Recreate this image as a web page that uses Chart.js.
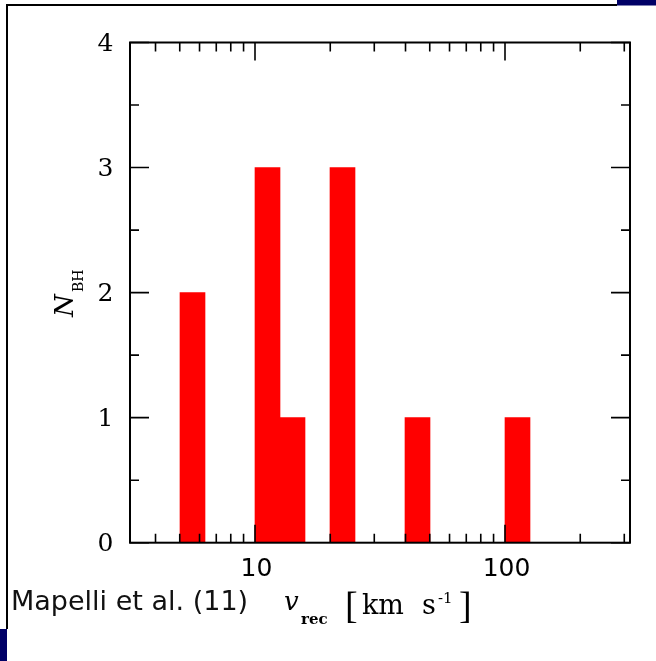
<!DOCTYPE html>
<html><head><meta charset="utf-8">
<script src="https://cdn.jsdelivr.net/npm/chart.js@4.4.1/dist/chart.umd.min.js"></script>
<style>html,body{margin:0;padding:0;background:#fff;overflow:hidden}#wrap{position:relative;width:656px;height:661px}</style>
</head><body><div id="wrap"><canvas id="c" width="656" height="661"></canvas></div>
<script>
// Histogram data (bins in log10 of recoil velocity, km/s)
const binLogLow = [0.7, 1.0, 1.1, 1.3, 1.6, 2.0];
const binWidthDex = 0.1;
const counts = [2, 3, 1, 3, 1, 1];
const xRangeLog = [0.5, 2.5];
const yRange = [0, 4];
const yTickValues = [0, 1, 2, 3, 4];
const yTickLabels = ['0', '1', '2', '3', '4'];
const xTickValues = [10, 100];
const xTickLabels = ['10', '100'];
const creditText = 'Mapelli et al. (11)';

const barData = counts.map((c, i) => ({ x: binLogLow[i] + binWidthDex / 2, y: c }));

const decor = {
  id: 'decor',
  afterDatasetsDraw(chart) {
    const ctx = chart.ctx;
    const xs = chart.scales.x, ys = chart.scales.y;
    const a = chart.chartArea;
    const px = v => xs.getPixelForValue(Math.log10(v));
    ctx.save();
    // slide frame
    ctx.fillStyle = '#000';
    ctx.fillRect(6, 4, 2, 625);
    ctx.fillRect(6, 4, 611, 2);
    ctx.fillStyle = '#000066';
    ctx.fillRect(617, 0, 39, 5.5);
    ctx.fillRect(0, 629, 7, 32);

    // axis box
    ctx.strokeStyle = '#000';
    ctx.lineWidth = 2;
    ctx.strokeRect(a.left, a.top, a.right - a.left, a.bottom - a.top);

    // ticks
    ctx.lineWidth = 1.6;
    ctx.beginPath();
    const lo = Math.pow(10, xRangeLog[0]), hi = Math.pow(10, xRangeLog[1]);
    for (let d = 1; d <= 1000; d *= 10) {
      for (let m = 1; m <= 9; m++) {
        const v = m * d;
        if (v < lo || v > hi) continue;
        const x = px(v);
        const len = (m === 1) ? 18 : 9;
        ctx.moveTo(x, a.bottom); ctx.lineTo(x, a.bottom - len);
        ctx.moveTo(x, a.top); ctx.lineTo(x, a.top + len);
      }
    }
    for (let v = yRange[0]; v <= yRange[1] + 1e-9; v += 0.5) {
      const y = ys.getPixelForValue(v);
      const len = Number.isInteger(v) ? 19 : 9;
      ctx.moveTo(a.left, y); ctx.lineTo(a.left + len, y);
      ctx.moveTo(a.right, y); ctx.lineTo(a.right - len, y);
    }
    ctx.stroke();

    // tick labels
    ctx.fillStyle = '#000';
    ctx.font = '25px "DejaVu Serif"';
    ctx.textAlign = 'center';
    ctx.textBaseline = 'middle';
    yTickValues.forEach((v, i) => {
      ctx.fillText(yTickLabels[i], 105.5, ys.getPixelForValue(v) + 2);
    });
    ctx.font = '25px "DejaVu Sans"';
    xTickValues.forEach((v, i) => {
      ctx.fillText(xTickLabels[i], px(v) + 1.5, 569);
    });

    // credit
    ctx.textAlign = 'left';
    ctx.textBaseline = 'alphabetic';
    ctx.fillStyle = '#111';
    ctx.font = '27px "DejaVu Sans"';
    ctx.fillText(creditText, 11, 610);

    // x axis title: v_rec [km s^-1]
    ctx.fillStyle = '#000';
    ctx.font = 'italic 26px "DejaVu Serif"';
    ctx.fillText('v', 284, 610);
    ctx.font = 'bold 15px "DejaVu Serif"';
    ctx.fillText('rec', 301, 624);
    ctx.font = '38px "Liberation Serif"';
    ctx.fillText('[', 345, 618);
    ctx.fillText(']', 459, 618);
    ctx.font = '27px "DejaVu Serif"';
    ctx.fillText('km', 362, 614);
    ctx.fillText('s', 422, 614);
    ctx.font = '15px "DejaVu Serif"';
    ctx.fillText('-1', 438, 603);

    // y axis title: N_BH (rotated)
    ctx.save();
    ctx.translate(73, 317);
    ctx.rotate(-Math.PI / 2);
    ctx.font = 'italic 26px "DejaVu Serif"';
    ctx.fillText('N', 0, 0);
    ctx.font = '14px "DejaVu Serif"';
    ctx.fillText('BH', 25, 10);
    ctx.restore();

    ctx.restore();
  }
};

new Chart(document.getElementById('c'), {
  type: 'bar',
  data: {
    datasets: [{
      data: barData,
      backgroundColor: '#ff0000',
      borderWidth: 0,
      barPercentage: 1,
      categoryPercentage: 1
    }]
  },
  options: {
    responsive: false,
    animation: false,
    events: [],
    layout: { padding: { left: 130, right: 26, top: 42.5, bottom: 118.3 } },
    plugins: { legend: { display: false }, tooltip: { enabled: false } },
    scales: {
      x: { type: 'linear', min: xRangeLog[0], max: xRangeLog[1], offset: false, display: false,
           ticks: { stepSize: 0.5 } },
      y: { type: 'linear', min: yRange[0], max: yRange[1], display: false }
    }
  },
  plugins: [decor]
});
</script>
</body></html>
